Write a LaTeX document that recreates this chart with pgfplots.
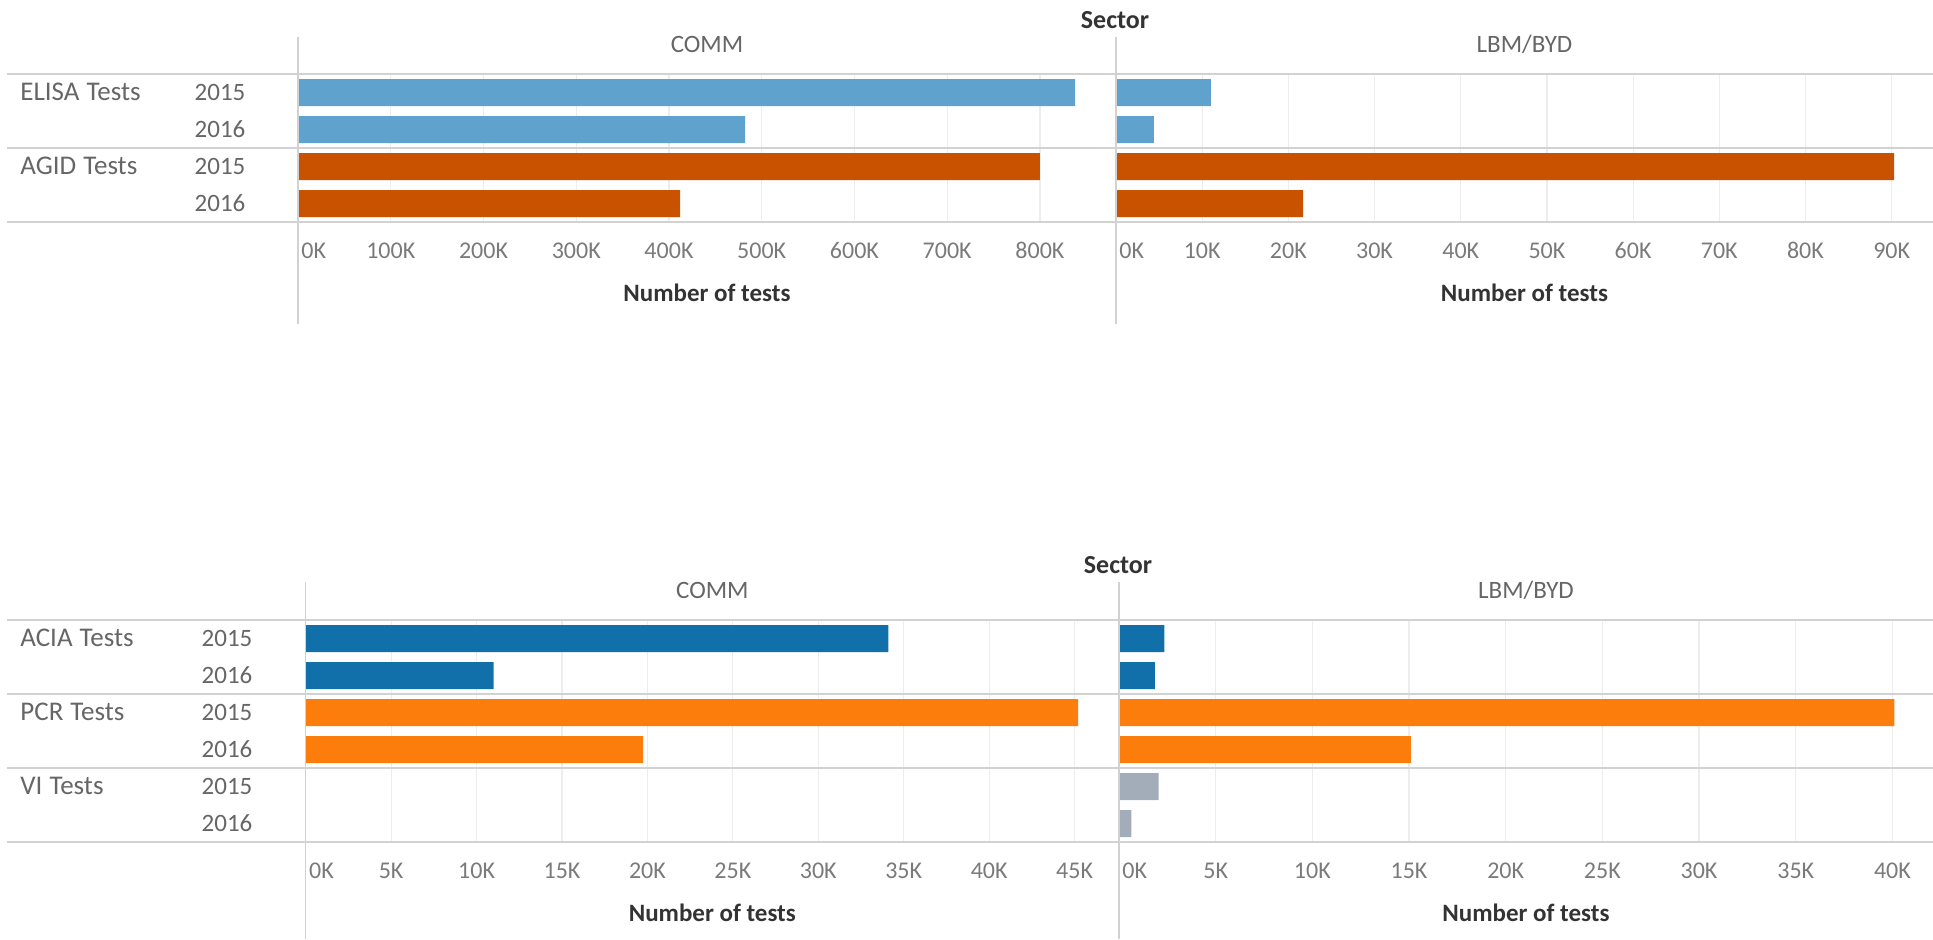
\documentclass[border=0pt]{standalone}
\usepackage{fontspec}
\setmainfont{Carlito}
\usepackage{pgfplots}
\pgfplotsset{compat=1.18}
\definecolor{cbBlueL}{HTML}{5FA2CE}
\definecolor{cbBlue}{HTML}{1170AA}
\definecolor{cbRedO}{HTML}{C85200}
\definecolor{cbOrange}{HTML}{FC7D0B}
\definecolor{cbGray}{HTML}{A3ACB9}
\definecolor{labgray}{HTML}{666666}
\definecolor{tickgray}{HTML}{7A7A7A}
\definecolor{titlegray}{HTML}{333333}
\definecolor{linegray}{HTML}{D2D2D2}
\definecolor{gridgray}{HTML}{EDEDED}
\pgfplotsset{
  panel/.style={
    scale only axis, y dir=reverse, ytick=\empty,
    axis line style={draw=none}, major tick length=0pt,
    xmin=0, xmajorgrids, grid style={draw=gridgray, line width=0.6pt},
    scaled x ticks=false,
    /pgf/number format/assume math mode=true,
    xticklabel style={font=\fontsize{12}{12}\selectfont, text=tickgray, anchor=base, yshift=-18pt, inner sep=0pt},
    extra x ticks={0}, extra x tick labels={0K},
    extra x tick style={xticklabel style={anchor=base west, xshift=1.5pt}},
    title style={font=\fontsize{12.5}{12.5}\selectfont, text=labgray, at={(axis description cs:0.5,1)}, anchor=base, yshift=4.7pt, inner sep=0pt},
    xlabel={Number of tests},
    xlabel style={font=\bfseries\fontsize{12.5}{12.5}\selectfont, text=titlegray, at={(axis description cs:0.5,0)}, anchor=base, yshift=-39.7pt, inner sep=0pt},
  },
  bars/.style={xbar, bar shift=0pt, bar width=13.5pt, draw=none, fill=#1},
}
\newcommand{\gsp}{\hspace{3.5pt}}
\begin{document}
\begin{tikzpicture}
\path[use as bounding box] (0,0) rectangle (966.5pt,-469.5pt);
% ---------- top block ----------
\begin{axis}[panel, at={(149pt,-111pt)}, anchor=south west, width=409pt, height=74pt,
  ymin=-0.5, ymax=3.5, xmax=882000, title={COMM},
  xtick={100000,200000,300000,400000,500000,600000,700000,800000},
  xticklabels={100K,200K,300K,400K,500K,600K,700K,800K}]
\addplot[bars=cbBlueL] coordinates {(838000,0) (482000,1)};
\addplot[bars=cbRedO] coordinates {(800000,2) (412000,3)};
\end{axis}
\begin{axis}[panel, at={(558pt,-111pt)}, anchor=south west, width=408.5pt, height=74pt,
  ymin=-0.5, ymax=3.5, xmax=94800, title={LBM/BYD},
  xtick={10000,20000,30000,40000,50000,60000,70000,80000,90000},
  xticklabels={10K,20K,30K,40K,50K,60K,70K,80K,90K}]
\addplot[bars=cbBlueL] coordinates {(11000,0) (4400,1)};
\addplot[bars=cbRedO] coordinates {(90300,2) (21700,3)};
\end{axis}
% ---------- bottom block ----------
\begin{axis}[panel, at={(152.85pt,-421pt)}, anchor=south west, width=406.65pt, height=111pt,
  ymin=-0.5, ymax=5.5, xmax=47600, title={COMM},
  xtick={5000,10000,15000,20000,25000,30000,35000,40000,45000},
  xticklabels={5K,10K,15K,20K,25K,30K,35K,40K,45K}]
\addplot[bars=cbBlue] coordinates {(34100,0) (11000,1)};
\addplot[bars=cbOrange] coordinates {(45200,2) (19750,3)};
\end{axis}
\begin{axis}[panel, at={(559.5pt,-421pt)}, anchor=south west, width=407pt, height=111pt,
  ymin=-0.5, ymax=5.5, xmax=42100, title={LBM/BYD},
  xtick={5000,10000,15000,20000,25000,30000,35000,40000},
  xticklabels={5K,10K,15K,20K,25K,30K,35K,40K}]
\addplot[bars=cbBlue] coordinates {(2350,0) (1850,1)};
\addplot[bars=cbOrange] coordinates {(40100,2) (15100,3)};
\addplot[bars=cbGray] coordinates {(2050,4) (640,5)};
\end{axis}
% ---------- decorations ----------
\draw[linegray, line width=0.6pt] (149pt,-18.5pt) -- (149pt,-162pt);
\draw[linegray, line width=0.6pt] (558pt,-18.5pt) -- (558pt,-162pt);
\draw[linegray, line width=0.6pt] (152.85pt,-291pt) -- (152.85pt,-469.5pt);
\draw[linegray, line width=0.6pt] (559.5pt,-291pt) -- (559.5pt,-469.5pt);
\foreach \yy in {-37,-74,-111,-310,-347,-384,-421}
  \draw[linegray, line width=1.2pt] (3.5pt,\yy pt) -- (966.5pt,\yy pt);
% titles
\node[anchor=base, font=\bfseries\fontsize{13}{13}\selectfont, text=titlegray, inner sep=0pt] at (557.5pt,-14pt) {Sector};
\node[anchor=base, font=\bfseries\fontsize{13}{13}\selectfont, text=titlegray, inner sep=0pt] at (559pt,-286.5pt) {Sector};
% row labels
\begin{scope}[every node/.style={font=\fontsize{12.5}{12.5}\selectfont, text=labgray, inner sep=0pt}]
\begin{scope}[every node/.append style={font=\fontsize{13.5}{13.5}\selectfont}]
\node[anchor=base west] at (10pt,-50pt) {ELISA\gsp Tests};
\node[anchor=base west] at (10pt,-87pt) {AGID\gsp Tests};
\node[anchor=base west] at (10pt,-323pt) {ACIA\gsp Tests};
\node[anchor=base west] at (10pt,-360pt) {PCR\gsp Tests};
\node[anchor=base west] at (10pt,-397pt) {VI\gsp Tests};
\end{scope}
\node[anchor=base] at (110pt,-50pt) {2015};
\node[anchor=base] at (110pt,-68.5pt) {2016};
\node[anchor=base] at (110pt,-87pt) {2015};
\node[anchor=base] at (110pt,-105.5pt) {2016};
\node[anchor=base] at (113.5pt,-323pt) {2015};
\node[anchor=base] at (113.5pt,-341.5pt) {2016};
\node[anchor=base] at (113.5pt,-360pt) {2015};
\node[anchor=base] at (113.5pt,-378.5pt) {2016};
\node[anchor=base] at (113.5pt,-397pt) {2015};
\node[anchor=base] at (113.5pt,-415.5pt) {2016};
\end{scope}
\end{tikzpicture}
\end{document}
